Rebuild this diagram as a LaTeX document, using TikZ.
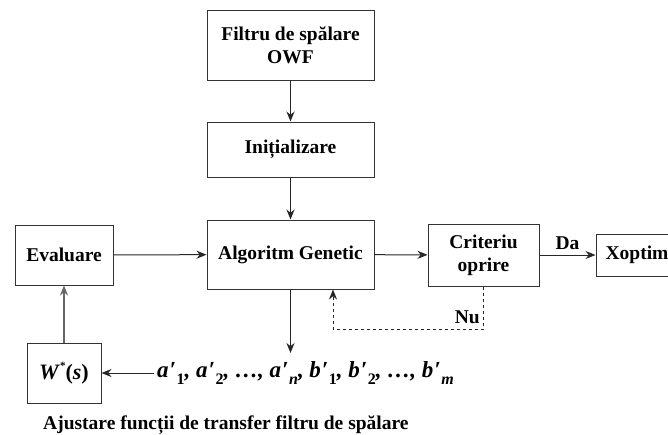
\documentclass[tikz,border=0pt]{standalone}
\usepackage{fontspec}
\setmainfont{Liberation Serif}
\usetikzlibrary{arrows.meta}

% primed gene symbol with a lowered index
\newcommand{\gene}[2]{\textit{#1}\kern1pt\symbol{"2032}\kern0.5pt\raisebox{-0.3em}{\fontsize{16pt}{16pt}\selectfont #2}}

\tikzset{
  blk/.style={draw=black!80, line width=1pt, align=center, inner sep=0pt,
    font=\bfseries\fontsize{19.5pt}{23pt}\selectfont},
  arr/.style={draw=black!85, line width=1pt, -{Stealth[length=10pt,width=8pt]}},
  lbl/.style={font=\bfseries\fontsize{19.5pt}{23pt}\selectfont, inner sep=1pt}
}

\begin{document}
\begin{tikzpicture}[x=1pt,y=-1pt]
\useasboundingbox (0,0) rectangle (668,434);

\node[blk, minimum width=167pt, minimum height=70pt] (owf)  at (290.5,45)    {Filtru de spălare\\OWF};
\node[blk, minimum width=167pt, minimum height=55pt] (init) at (290.5,149.5) {Inițializare};
\node[blk, minimum width=167pt, minimum height=69pt] (ga)   at (290.5,254.5) {Algoritm Genetic};
\node[blk, minimum width=98pt,  minimum height=60pt] (eval) at (64,255)      {Evaluare};
\node[blk, minimum width=111pt, minimum height=62pt] (crit) at (483.5,255)   {Criteriu\\oprire};
\node[blk, minimum width=82pt,  minimum height=42pt] (xopt) at (637,255)     {Xoptim};
\node[blk, minimum width=74pt,  minimum height=60pt] (ws)   at (64,373)
  {\fontsize{22pt}{24pt}\selectfont\textit{W}\raisebox{0.45em}{\fontsize{11pt}{11pt}\selectfont *}(\textit{s})};

\node[lbl, anchor=west, inner sep=3pt] (genes) at (154,373)
  {\fontsize{23pt}{26pt}\selectfont\itshape
   \gene{a}{\upshape 1}, \gene{a}{\upshape 2}, …, \gene{a}{n}, \gene{b}{\upshape 1}, \gene{b}{\upshape 2}, …, \gene{b}{m}};

\node[lbl, anchor=west] (cap) at (42,425)
  {Ajustare funcții de transfer filtru de spălare};

\coordinate (gtip) at (290.5,353);
\coordinate (fb) at (333,329);

\draw[arr] (owf) -- (init);
\draw[arr] (init) -- (ga);
\draw[arr] (eval) -- (ga);
\draw[arr] (ga) -- (crit);
\draw[arr] (crit) -- (xopt) node[lbl, midway, above=4pt] (da) {Da};
\draw[arr] (ga.south) -- (gtip);
\draw[arr] (genes.west) -- (ws.east);
\draw[arr, draw=black!60, line width=1.4pt] (ws) -- (eval);
\draw[arr, dashed] (crit.south) |- (fb) -- (fb |- ga.south);
\node[lbl, anchor=east] (nu) at (481,317) {Nu};
\end{tikzpicture}
\end{document}
